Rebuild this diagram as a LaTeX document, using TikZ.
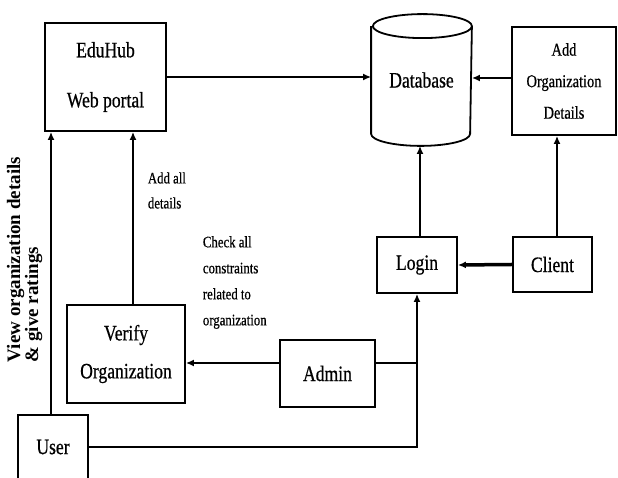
\documentclass[tikz,border=0pt]{standalone}
\usepackage{fontspec}
\setmainfont{Liberation Serif}[FakeStretch=0.8,FakeBold=0.6]
\newfontfamily\sidefont{Liberation Serif}
\usetikzlibrary{arrows.meta}

\begin{document}
\begin{tikzpicture}[x=1pt,y=1pt,>={Latex[length=8pt,width=7pt]},line width=1.8pt,
  box/.style={draw,line width=1.8pt,align=center,inner sep=0pt,font=\fontsize{22}{26}\selectfont},
  lbl/.style={align=left,inner sep=0pt,font=\fontsize{16}{26}\selectfont}]

\useasboundingbox (0,0) rectangle (618,478);

\node [box, minimum width=121, minimum height=108, font=\fontsize{22}{50}\selectfont] (eduhub) at (105.5,401) {EduHub\\Web portal};
\node [minimum width=99, minimum height=130, inner sep=0pt, font=\fontsize{22}{26}\selectfont] (db) at (421.5,398) {\raisebox{-5pt}{Database}};
\node [box, minimum width=104, minimum height=108, font=\fontsize{18}{31.5}\selectfont] (addorg) at (564,397) {Add\\Organization\\Details};
\node [box, minimum width=118, minimum height=98, font=\fontsize{22}{38}\selectfont] (verify) at (126,124) {Verify\\Organization};
\node [box, minimum width=70, minimum height=64] (user) at (53,31) {User};
\node [box, minimum width=95, minimum height=67] (admin) at (327.5,104.5) {Admin};
\node [box, minimum width=80, minimum height=56] (login) at (417,213) {Login};
\node [box, minimum width=79, minimum height=55] (client) at (552.5,213.5) {Client};

% database outline
\draw ([yshift=-12]db.north west) -- ([yshift=12]db.south west)
      arc [start angle=180, end angle=360, x radius=49.5, y radius=12]
      -- ([yshift=-12]db.north east)
      arc [start angle=0, end angle=180, x radius=49.5, y radius=12]
      arc [start angle=180, end angle=360, x radius=49.5, y radius=12];

\draw [->] (eduhub.east) -- (eduhub.east -| db.west);
\draw [->] ([yshift=3]addorg.west) -- ([yshift=3]addorg.west -| db.east);
\draw [->] ([xshift=3]login.north) -- ([xshift=3]login.north |- db.south);
\draw [->] ([xshift=4.5]client.north) -- ([xshift=4.5]client.north |- addorg.south);
\draw [->, line width=3.5pt] (client.west) -- (login.east);
\draw [->] (user.east) -| (login.south);
\draw [line width=1.2pt] ([yshift=10.5]admin.east) -- ([yshift=10.5]admin.east -| login.south);
\draw [->] ([yshift=10.5]admin.west) -- ([yshift=10.5]admin.west -| verify.east);
\draw [->] ([xshift=7]verify.north) -- ([xshift=7]verify.north |- eduhub.south)
      node [lbl, pos=0.66, right=14pt, font=\fontsize{16}{25}\selectfont] (adddet) {Add all\\details};
\draw [->] ([xshift=-2]user.north) -- ([xshift=-2]user.north |- eduhub.south);

\node [lbl, anchor=west] (check) at (202,195.5) {Check all\\constraints\\related to\\organization};
\node [rotate=90, anchor=north west, align=left, inner sep=0pt, font=\sidefont\bfseries\fontsize{19}{18}\selectfont] (rating) at (6,115) {View organization details\\\& give ratings};

\end{tikzpicture}
\end{document}
